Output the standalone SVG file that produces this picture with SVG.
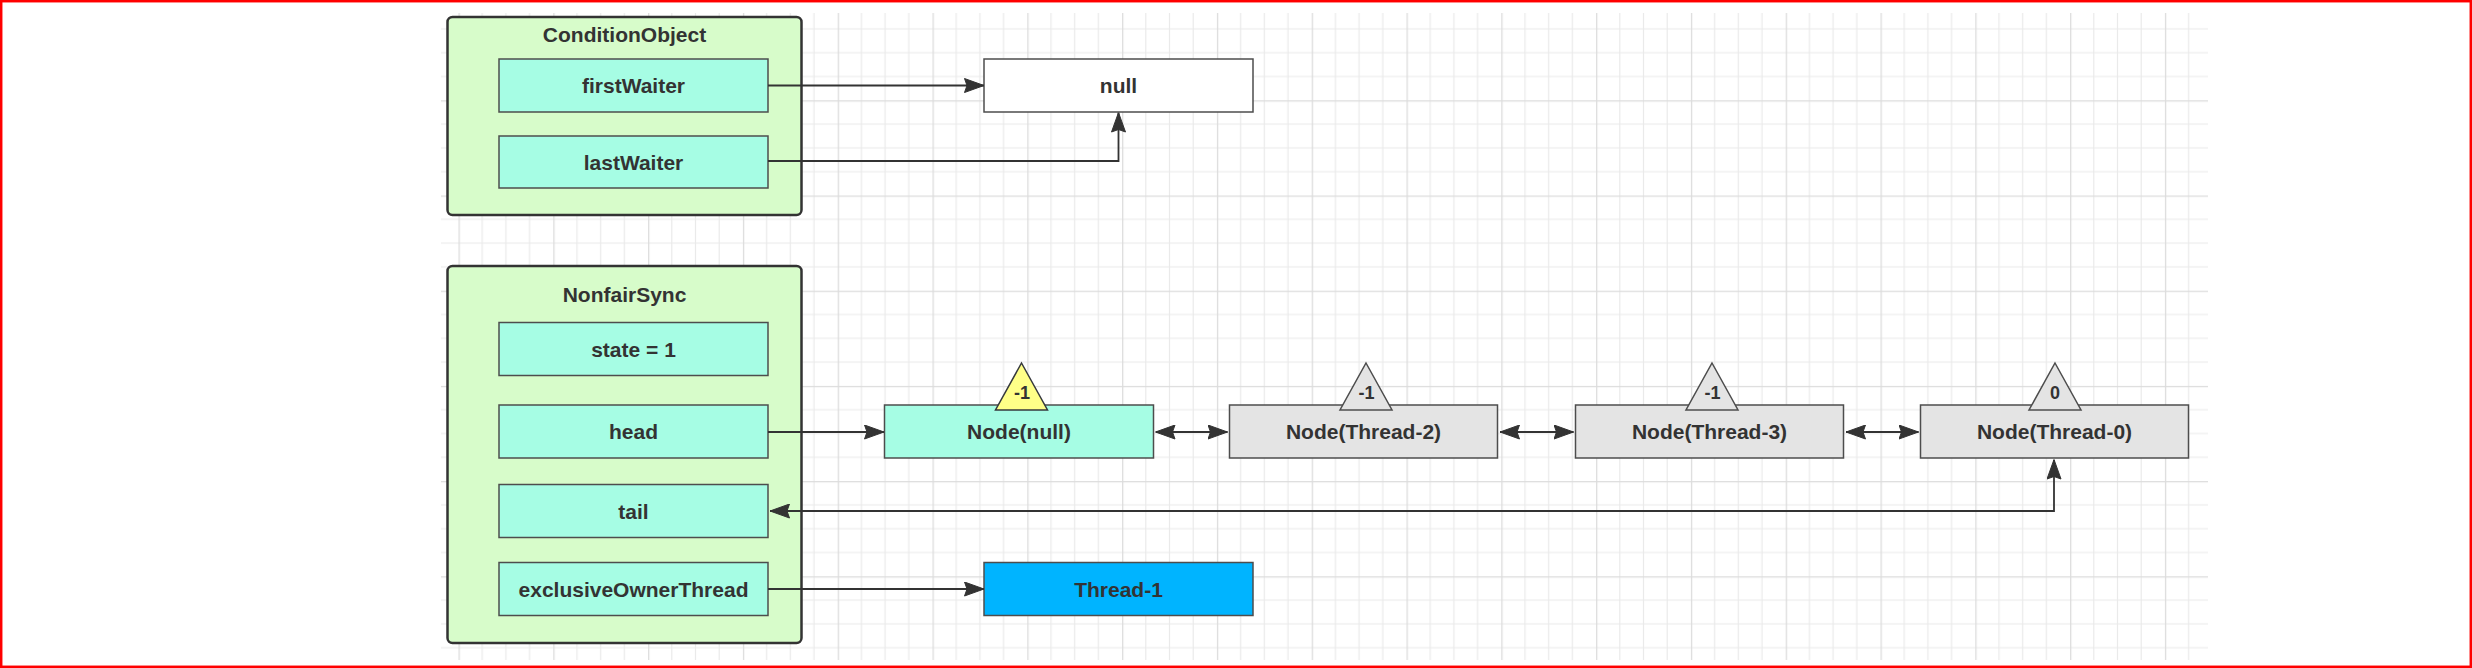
<svg xmlns="http://www.w3.org/2000/svg" width="2472" height="668" viewBox="0 0 2472 668">
<style>
.txt{font-family:"Liberation Sans",Arial,sans-serif;font-weight:bold;font-size:21px;fill:#333;text-anchor:middle}
.tri-txt{font-family:"Liberation Sans",Arial,sans-serif;font-weight:bold;font-size:18px;fill:#333;text-anchor:middle}
.container{fill:#d7fcca;stroke:#333;stroke-width:2.5}
.field{fill:#a6fde4;stroke:#4d4d4d;stroke-width:1.5}
.white{fill:#ffffff;stroke:#4d4d4d;stroke-width:1.5}
.gray{fill:#e4e4e4;stroke:#4d4d4d;stroke-width:1.5}
.blue{fill:#00b4ff;stroke:#4d4d4d;stroke-width:1.5}
.tri-y{fill:#ffff88;stroke:#36393d;stroke-width:1.5}
.tri-g{fill:#e4e4e4;stroke:#4d4d4d;stroke-width:1.5}
.conn{fill:none;stroke:#333;stroke-width:1.8}
</style>
<defs>
<marker id="arr" viewBox="0 0 20 15" refX="20" refY="7.5" markerWidth="20" markerHeight="15" markerUnits="userSpaceOnUse" orient="auto-start-reverse">
<path d="M0.5,0.5 L20,7.5 L0.5,14.5 L3,7.5 Z" fill="#333" stroke="#333" stroke-width="1" stroke-linejoin="miter"/>
</marker>
<pattern id="grid" patternUnits="userSpaceOnUse" x="1027.3" y="100.3" width="94.8" height="95.2">
<path d="M23.7,0 V95.2 M47.4,0 V95.2 M71.1,0 V95.2 M0,23.8 H94.8 M0,47.6 H94.8 M0,71.4 H94.8" stroke="#eaeaea" stroke-width="1.2" fill="none"/>
<path d="M0.6,0 V95.2 M0,0.6 H94.8" stroke="#dcdcdc" stroke-width="1.4" fill="none"/>
</pattern>
</defs>
<rect x="0" y="0" width="2472" height="668" fill="#ffffff"/>
<rect x="441" y="13" width="1767" height="647" fill="url(#grid)"/>
<rect x="1.2" y="1.2" width="2469.6" height="665.6" fill="none" stroke="#ff0000" stroke-width="2.5"/>

<g id="ConditionObject">
<rect class="container" x="447.5" y="17" width="354" height="198" rx="5"/>
<text class="txt" x="624.5" y="42">ConditionObject</text>
</g>
<g id="firstWaiter">
<rect class="field" x="499" y="59" width="269" height="53"/>
<text class="txt" x="633.5" y="93">firstWaiter</text>
</g>
<g id="lastWaiter">
<rect class="field" x="499" y="136" width="269" height="52"/>
<text class="txt" x="633.5" y="169.5">lastWaiter</text>
</g>
<g id="null">
<rect class="white" x="984" y="59" width="269" height="53"/>
<text class="txt" x="1118.5" y="93">null</text>
</g>

<g id="NonfairSync">
<rect class="container" x="447.5" y="266" width="354" height="377" rx="5"/>
<text class="txt" x="624.5" y="302">NonfairSync</text>
</g>
<g id="state">
<rect class="field" x="499" y="322.5" width="269" height="53"/>
<text class="txt" x="633.5" y="356.5">state = 1</text>
</g>
<g id="head">
<rect class="field" x="499" y="405" width="269" height="53"/>
<text class="txt" x="633.5" y="439">head</text>
</g>
<g id="tail">
<rect class="field" x="499" y="484.5" width="269" height="53"/>
<text class="txt" x="633.5" y="518.5">tail</text>
</g>
<g id="exclusiveOwnerThread">
<rect class="field" x="499" y="562.5" width="269" height="53"/>
<text class="txt" x="633.5" y="596.5">exclusiveOwnerThread</text>
</g>
<g id="Thread-1">
<rect class="blue" x="984" y="562.5" width="269" height="53"/>
<text class="txt" x="1118.5" y="596.5">Thread-1</text>
</g>

<g id="Node-null">
<rect class="field" x="884.5" y="405" width="269" height="53"/>
<text class="txt" x="1019" y="439">Node(null)</text>
<polygon class="tri-y" points="1021.5,363 1047.5,410 995.5,410"/>
<text class="tri-txt" x="1022" y="399">-1</text>
</g>
<g id="Node-Thread-2">
<rect class="gray" x="1229.5" y="405" width="268" height="53"/>
<text class="txt" x="1363.5" y="439">Node(Thread-2)</text>
<polygon class="tri-g" points="1366,363 1392,410 1340,410"/>
<text class="tri-txt" x="1366.5" y="399">-1</text>
</g>
<g id="Node-Thread-3">
<rect class="gray" x="1575.5" y="405" width="268" height="53"/>
<text class="txt" x="1709.5" y="439">Node(Thread-3)</text>
<polygon class="tri-g" points="1712,363 1738,410 1686,410"/>
<text class="tri-txt" x="1712.5" y="399">-1</text>
</g>
<g id="Node-Thread-0">
<rect class="gray" x="1920.5" y="405" width="268" height="53"/>
<text class="txt" x="2054.5" y="439">Node(Thread-0)</text>
<polygon class="tri-g" points="2055,363 2081,410 2029,410"/>
<text class="tri-txt" x="2055" y="399">0</text>
</g>

<g id="connectors">
<path class="conn" d="M768,85.5 H984" marker-end="url(#arr)"/>
<path class="conn" d="M768,161 H1118.5 V112.5" marker-end="url(#arr)"/>
<path class="conn" d="M768,432 H884" marker-end="url(#arr)"/>
<path class="conn" d="M1155.5,432 H1227.5" marker-start="url(#arr)" marker-end="url(#arr)"/>
<path class="conn" d="M1500,432 H1573.5" marker-start="url(#arr)" marker-end="url(#arr)"/>
<path class="conn" d="M1846,432 H1918.5" marker-start="url(#arr)" marker-end="url(#arr)"/>
<path class="conn" d="M770,511 H2054 V459.5" marker-start="url(#arr)" marker-end="url(#arr)"/>
<path class="conn" d="M768,589 H984" marker-end="url(#arr)"/>
</g>
</svg>
